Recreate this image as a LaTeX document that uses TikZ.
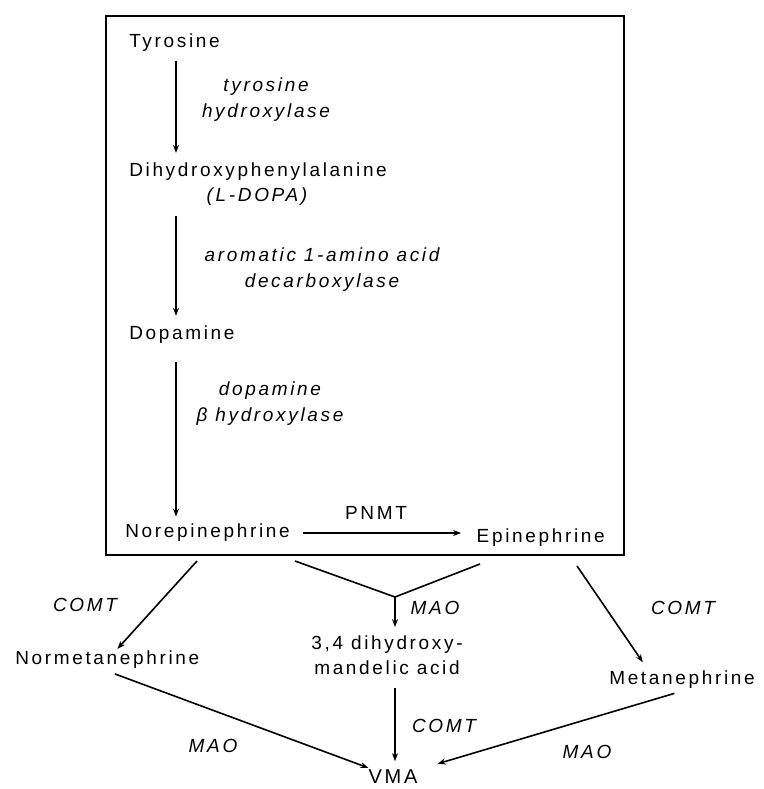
\documentclass[tikz,border=0pt]{standalone}
\usepackage{fontspec}
\setmainfont{Liberation Sans}[LetterSpace=14]
\usetikzlibrary{arrows.meta}

\begin{document}
\begin{tikzpicture}[x=0.75pt,y=-0.75pt,>={Stealth[length=6pt,width=4.5pt]},
txt/.style={inner sep=1.5pt,font=\fontsize{14.25}{18.75}\selectfont},
enz/.style={inner sep=1.5pt,align=center,font=\fontsize{14.25}{19.5}\selectfont\itshape},
arrow/.style={->,line width=1.2pt},frame/.style={line width=1.6pt}]
\useasboundingbox (0,0) rectangle (764,789);
\draw[frame] (106,16) rectangle (624,555);
% synthesis inside the box
\node[txt,anchor=west] (tyr) at (127,43) {Tyrosine};
\node[txt,anchor=west] (dihy) at (127,172) {Dihydroxyphenylalanine};
\node[enz] (ldopa) at (257,197) {(L-DOPA)};
\node[txt,anchor=west] (dopa) at (127,335) {Dopamine};
\node[txt,anchor=west] (nor) at (123,533) {Norepinephrine};
\node[txt,anchor=east] (epi) at (607,538) {Epinephrine};
\node[enz] (th) at (266,99.5) {tyrosine\\hydroxylase};
\node[enz] (aadc) at (322,270) {aromatic 1-amino acid\\decarboxylase};
\node[enz] (dbh) at (270,403.5) {dopamine\\β hydroxylase};
\node[txt] (pnmt) at (376,513) {PNMT};
% breakdown below the box
\node[txt,anchor=west] (normet) at (13,660) {Normetanephrine};
\node[txt,align=center] (dhma) at (387,655.5) {3,4 dihydroxy-\\mandelic acid};
\node[txt] (met) at (682,680) {Metanephrine};
\node[txt,font=\fontsize{15}{18}\selectfont] (vma) at (393,777) {VMA};
\node[enz] (comtl) at (85,605) {COMT};
\node[enz] (maoc) at (435,608) {MAO};
\node[enz] (comtr) at (683,608) {COMT};
\node[enz] (comtc) at (444,726) {COMT};
\node[enz] (maol) at (213,746) {MAO};
\node[enz] (maor) at (587,752) {MAO};
\coordinate (spine) at (176,0);
\coordinate (noro) at (197,561);
\coordinate (vl) at (295,561);
\coordinate (vtx) at (395,597);
\coordinate (vr) at (480,564);
\coordinate (epio) at (577,566);
\draw[arrow,shorten <=5pt,shorten >=6pt] (tyr.south -| spine) -- (dihy.north -| spine);
\draw[arrow,shorten <=6pt,shorten >=6pt] (ldopa.south -| spine) -- (dopa.north -| spine);
\draw[arrow,shorten <=12pt,shorten >=4pt] (dopa.south -| spine) -- (nor.north -| spine);
\draw[arrow,shorten <=8pt,shorten >=10pt] (nor.east) -- (nor.east -| epi.west);
\draw[arrow] (noro) -- (normet);
\draw[line width=1.2pt] (vl) -- (vtx) -- (vr);
\draw[arrow,shorten >=5pt] (vtx) -- (vtx |- dhma.north);
\draw[arrow,shorten >=6pt] (epio) -- ([xshift=-26pt]met.north);
\draw[arrow,shorten <=6pt] (normet.south) -- (vma);
\draw[arrow,shorten <=8pt,shorten >=5pt] (vtx |- dhma.south) -- (vtx |- vma.north);
\draw[arrow,shorten <=6pt,shorten >=14pt] (met.south) -- (vma);
\end{tikzpicture}
\end{document}
